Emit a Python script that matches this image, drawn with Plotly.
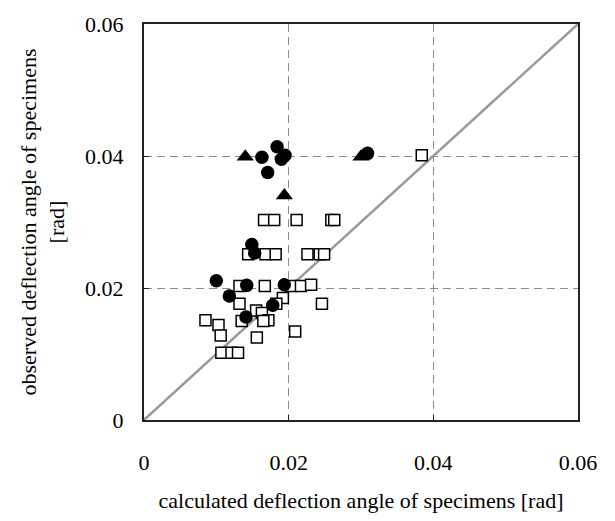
import plotly.graph_objects as go

# Open squares
sq_x = [0.0384, 0.0166, 0.0180, 0.0211, 0.0259, 0.0263,
        0.0144, 0.0168, 0.0182, 0.0226, 0.0243, 0.0249,
        0.0132, 0.0167, 0.0204, 0.0217, 0.0231,
        0.0246, 0.0132, 0.0192, 0.0183, 0.0155, 0.0163, 0.0172,
        0.0135, 0.0165, 0.0085, 0.0103, 0.0106, 0.0156, 0.0209,
        0.0107, 0.0121, 0.0130]
sq_y = [0.0401, 0.0303, 0.0303, 0.0303, 0.0303, 0.0303,
        0.0251, 0.0251, 0.0251, 0.0251, 0.0251, 0.0251,
        0.0203, 0.0203, 0.0203, 0.0203, 0.0205,
        0.0176, 0.0176, 0.0185, 0.0176, 0.0166, 0.0162, 0.0151,
        0.0150, 0.0150, 0.0151, 0.0144, 0.0128, 0.0125, 0.0134,
        0.0102, 0.0102, 0.0102]

# Filled circles
ci_x = [0.0163, 0.0184, 0.0195, 0.0190, 0.0171, 0.0309,
        0.0149, 0.0153, 0.0100, 0.0142, 0.0194, 0.0118, 0.0178, 0.0141]
ci_y = [0.0398, 0.0414, 0.0401, 0.0395, 0.0375, 0.0404,
        0.0266, 0.0253, 0.0211, 0.0204, 0.0205, 0.0188, 0.0174, 0.0156]

# Filled triangles
tr_x = [0.0140, 0.0194, 0.0300]
tr_y = [0.0399, 0.0340, 0.0399]

# 1:1 line
line_x = [0, 0.06]
line_y = [0, 0.06]

tick_vals = [0, 0.02, 0.04, 0.06]
tick_text = ["0", "0.02", "0.04", "0.06"]

FONT = "Liberation Serif"

fig = go.Figure()
fig.add_trace(go.Scatter(x=line_x, y=line_y, mode="lines",
                         line=dict(color="#9a9a9a", width=2.5), hoverinfo="skip"))
fig.add_trace(go.Scatter(x=sq_x, y=sq_y, mode="markers",
                         marker=dict(symbol="square", size=11, color="white",
                                     line=dict(color="black", width=1.5))))
fig.add_trace(go.Scatter(x=ci_x, y=ci_y, mode="markers",
                         marker=dict(symbol="circle", size=13.5, color="black",
                                     line=dict(width=0))))
fig.add_trace(go.Scatter(x=tr_x, y=tr_y, mode="markers",
                         marker=dict(symbol="triangle-up", size=15, color="black",
                                     line=dict(width=0))))

axis_common = dict(
    range=[0, 0.06], tickvals=tick_vals, ticktext=tick_text,
    showline=True, linecolor="#222222", linewidth=2, mirror=True,
    showgrid=True, gridcolor="#8c8c8c", gridwidth=1, griddash="8px,5px",
    zeroline=False, ticks="inside", ticklen=5, tickcolor="#222222",
    tickfont=dict(family=FONT, size=22, color="black"),
)

fig.update_layout(
    width=615, height=521,
    margin=dict(l=144, r=37, t=20, b=101),
    paper_bgcolor="white", plot_bgcolor="white",
    showlegend=False,
    font=dict(family=FONT, color="black"),
    xaxis=dict(**axis_common, ticklabelstandoff=22,
               title=dict(text="calculated deflection angle of specimens [rad]",
                          font=dict(family=FONT, size=22), standoff=18)),
    yaxis=dict(**axis_common, ticklabelstandoff=14,
               title=dict(text="observed deflection angle of specimens<br>[rad]",
                          font=dict(family=FONT, size=22), standoff=14)),
)

fig.write_html("out.html")
